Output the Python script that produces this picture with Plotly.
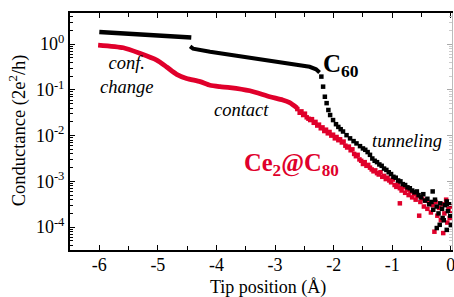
import plotly.graph_objects as go

# ---- data (log10 of conductance in 2e^2/h) ----
# C60: continuous segment before the jump
c60_a_x = [-6.0, -5.5, -5.0, -4.7, -4.43]
c60_a_log = [0.262, 0.229, 0.197, 0.175, 0.142]
# C60: continuous segment after the jump
c60_b_x = [-4.45, -4.40, -4.11, -3.77, -3.43, -3.09, -2.75, -2.41, -2.30, -2.24]
c60_b_log = [-0.05, -0.098, -0.168, -0.235, -0.30, -0.365, -0.43, -0.496, -0.55, -0.62]
# C60: discrete points (steep drop + tunneling tail)
c60_c_x = [-2.21, -2.18, -2.15, -2.12, -2.09, -2.06, -2.01, -1.96, -1.92, -1.88, -1.84,
           -1.78, -1.72, -1.66, -1.61, -1.55, -1.50, -1.46, -1.42, -1.38, -1.34, -1.30,
           -1.26, -1.22, -1.18, -1.14, -1.10, -1.06, -1.02, -0.98, -0.94, -0.90, -0.86,
           -0.82, -0.78, -0.74, -0.70, -0.66, -0.62, -0.58, -0.55, -0.51, -0.47, -0.44,
           -0.40, -0.37, -0.33, -0.31, -0.30, -0.27, -0.24, -0.24, -0.21, -0.19, -0.18,
           -0.15, -0.14, -0.12, -0.10, -0.07, -0.07, -0.05, -0.03, -0.01, 0.00]
c60_c_log = [-0.71, -0.93, -1.15, -1.29, -1.44, -1.55, -1.66, -1.75, -1.81, -1.86, -1.91,
             -1.99, -2.06, -2.12, -2.17, -2.23, -2.28, -2.31, -2.36, -2.42, -2.50, -2.55,
             -2.58, -2.63, -2.66, -2.72, -2.75, -2.80, -2.84, -2.90, -2.92, -2.98, -3.00,
             -3.06, -3.08, -3.13, -3.15, -3.20, -3.24, -3.22, -3.30, -3.35, -3.28, -3.42,
             -3.38, -3.50, -3.45, -3.22, -3.62, -3.40, -3.55, -4.02, -3.70, -3.95, -3.48,
             -3.60, -3.80, -3.85, -3.52, -3.44, -4.06, -3.65, -3.50, -3.75, -3.95]

# Ce2@C80: continuous part
ce_a_x = [-6.02, -5.59, -5.31, -5.02, -4.85, -4.68, -4.51, -4.28, -4.11, -3.94,
          -3.77, -3.43, -3.09, -2.87, -2.75, -2.62]
ce_a_log = [-0.02, -0.08, -0.20, -0.35, -0.50, -0.66, -0.75, -0.82, -0.90, -0.93,
            -0.95, -1.02, -1.15, -1.22, -1.28, -1.40]
# Ce2@C80: discrete points
ce_b_x = [-2.62, -2.58, -2.55, -2.52, -2.49, -2.46, -2.43, -2.40, -2.37, -2.34, -2.31,
          -2.28, -2.25, -2.22, -2.19, -2.16, -2.13, -2.10, -2.07, -2.04, -2.01, -1.98,
          -1.95, -1.92, -1.89, -1.86, -1.83, -1.80, -1.77, -1.74, -1.71, -1.68,
          -1.65, -1.62, -1.59, -1.56, -1.53, -1.50, -1.47, -1.44, -1.41, -1.38, -1.35,
          -1.32, -1.29, -1.26, -1.23, -1.20, -1.17, -1.14, -1.11, -1.08, -1.05, -1.02,
          -0.99, -0.96, -0.93, -0.90, -0.87, -0.87, -0.84, -0.81, -0.78, -0.75, -0.72,
          -0.69, -0.66, -0.63, -0.60, -0.57, -0.54, -0.52, -0.49, -0.46, -0.43, -0.40,
          -0.37, -0.34, -0.31, -0.28, -0.26, -0.23, -0.20, -0.17, -0.14, -0.13, -0.11,
          -0.08, -0.06, -0.04, -0.02, 0.00, 0.01]
ce_b_log = [-1.42, -1.50, -1.47, -1.55, -1.52, -1.60, -1.63, -1.66, -1.64, -1.72, -1.70,
            -1.78, -1.76, -1.84, -1.82, -1.90, -1.87, -1.95, -1.92, -2.00, -1.98, -2.06,
            -2.03, -2.10, -2.08, -2.15, -2.13, -2.22, -2.26, -2.24, -2.32, -2.30,
            -2.40, -2.45, -2.42, -2.52, -2.55, -2.62, -2.58, -2.66, -2.64, -2.70, -2.74,
            -2.78, -2.76, -2.82, -2.85, -2.80, -2.90, -2.88, -2.95, -2.92, -2.98, -3.02,
            -2.96, -3.08, -3.12, -3.05, -3.48, -3.15, -3.20, -3.12, -3.25, -3.18, -3.30,
            -3.22, -3.35, -3.28, -3.40, -3.32, -3.75, -3.45, -3.38, -3.55, -3.42, -3.60,
            -3.48, -3.68, -3.52, -4.10, -3.45, -3.75, -3.58, -3.85, -3.50, -4.13, -3.70,
            -3.40, -3.90, -3.60, -3.80, -3.55, -3.70]

y_tick_vals = [1, 0.1, 0.01, 0.001, 0.0001]
y_tick_text = ["10<sup>0</sup>", "10<sup>-1</sup>", "10<sup>-2</sup>", "10<sup>-3</sup>", "10<sup>-4</sup>"]
x_tick_vals = [-6, -5, -4, -3, -2, -1, 0]
x_tick_text = ["-6", "-5", "-4", "-3", "-2", "-1", "0"]


def to_g(logs):
    return [10 ** v for v in logs]


BLACK = "#000000"
RED = "#e0002b"
FONT = "Liberation Serif, Times New Roman, Times, serif"

fig = go.Figure()
fig.add_trace(go.Scatter(x=c60_a_x, y=to_g(c60_a_log), mode="lines",
                         line=dict(color=BLACK, width=4.5), showlegend=False))
fig.add_trace(go.Scatter(x=c60_b_x, y=to_g(c60_b_log), mode="lines",
                         line=dict(color=BLACK, width=4.0), showlegend=False))
fig.add_trace(go.Scatter(x=ce_a_x, y=to_g(ce_a_log), mode="lines",
                         line=dict(color=RED, width=4.8, shape="spline", smoothing=0.6),
                         showlegend=False))
fig.add_trace(go.Scatter(x=ce_b_x, y=to_g(ce_b_log), mode="markers",
                         marker=dict(symbol="square", size=4.5, color=RED, line=dict(width=0)),
                         showlegend=False))
fig.add_trace(go.Scatter(x=c60_c_x, y=to_g(c60_c_log), mode="markers",
                         marker=dict(symbol="square", size=4.5, color=BLACK, line=dict(width=0)),
                         showlegend=False))

# minor tick positions for the log axis (2..9 x 10^n)
minor_y = []
for e in range(-5, 1):
    for m in range(2, 10):
        minor_y.append(m * 10 ** e)

fig.update_layout(
    width=454, height=297,
    margin=dict(l=70, r=2, t=13, b=47),
    paper_bgcolor="white", plot_bgcolor="white",
    font=dict(family=FONT, color="black", size=18),
    xaxis=dict(range=[-6.5, 0.02], tickvals=x_tick_vals, ticktext=x_tick_text,
               ticks="inside", ticklen=5, tickwidth=1, tickcolor="black",
               showline=True, linecolor="black", linewidth=2, mirror="ticks",
               showgrid=False, zeroline=False, automargin=False,
               ticklabeloverflow="allow", ticklabelstandoff=-3,
               minor=dict(ticks="inside", ticklen=4, dtick=0.5, tick0=0, tickcolor="black", showgrid=False),
               tickfont=dict(family=FONT, size=18)),
    yaxis=dict(type="log", range=[-4.5, 0.68], tickvals=y_tick_vals, ticktext=y_tick_text,
               ticks="inside", ticklen=5, tickwidth=1, tickcolor="black",
               showline=True, linecolor="black", linewidth=2, mirror=False,
               showgrid=False, zeroline=False, automargin=False,
               minor=dict(ticks="inside", ticklen=3, tickvals=minor_y, tickcolor="black", showgrid=False),
               tickfont=dict(family=FONT, size=18)),
    yaxis2=dict(type="log", range=[-4.5, 0.68], overlaying="y", side="right",
                tickvals=y_tick_vals, showticklabels=False, automargin=False,
                ticks="inside", ticklen=5, tickcolor="#aaaaaa",
                showline=True, linecolor="#bbbbbb", linewidth=1,
                showgrid=False, zeroline=False,
                minor=dict(ticks="inside", ticklen=3, tickvals=minor_y, tickcolor="#cccccc", showgrid=False)),
)
# invisible trace to activate yaxis2
fig.add_trace(go.Scatter(x=[None], y=[None], yaxis="y2", showlegend=False, hoverinfo="skip"))

# axis titles
fig.add_annotation(x=-0.138, y=0.506, xref="paper", yref="paper", textangle=-90,
                   xanchor="center", yanchor="middle",
                   text="Conductance (2e<sup>2</sup>/h)", showarrow=False,
                   font=dict(family=FONT, size=18.5, color="black"))
fig.add_annotation(x=0.518, y=-0.16, xref="paper", yref="paper",
                   xanchor="center", yanchor="middle",
                   text="Tip position (Å)", showarrow=False,
                   font=dict(family=FONT, size=18, color="black"))

ann_italic = dict(family=FONT, size=18.5, color="black")
fig.add_annotation(x=-5.53, y=-0.67, xref="x", yref="y", text="<i>conf.<br>change</i>",
                   showarrow=False, font=ann_italic, align="center")
fig.add_annotation(x=-3.58, y=-1.44, xref="x", yref="y", text="<i>contact</i>",
                   showarrow=False, font=ann_italic)
fig.add_annotation(x=-0.75, y=-2.11, xref="x", yref="y", text="<i>tunneling</i>",
                   showarrow=False, font=ann_italic)
fig.add_annotation(x=-2.21, y=-0.46, xref="x", yref="y", text="<b>C<sub>60</sub></b>",
                   showarrow=False, xanchor="left", font=dict(family=FONT, size=25, color="black"))
fig.add_annotation(x=-3.57, y=-2.63, xref="x", yref="y", text="<b>Ce<sub>2</sub>@C<sub>80</sub></b>",
                   showarrow=False, xanchor="left", font=dict(family=FONT, size=24.5, color=RED))

fig.write_html("out.html", config={"displayModeBar": False},
               post_script="document.body.style.margin='0';document.body.style.padding='0';")
